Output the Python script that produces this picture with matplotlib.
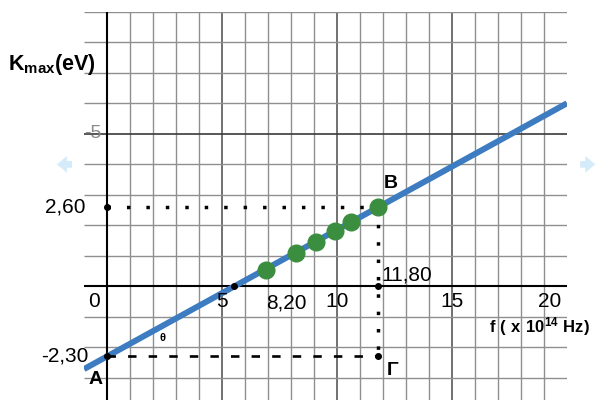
import matplotlib.pyplot as plt
import numpy as np

# measured points: frequency (x 10^14 Hz) and max kinetic energy (eV)
freq = [6.9, 8.2, 9.1, 9.9, 10.6, 11.8]
kmax = [0.55, 1.10, 1.45, 1.80, 2.10, 2.60]

# the two marked points on the fitted line
point_A = (0.0, -2.30)
point_B = (11.80, 2.60)
threshold_f = 5.54

x_tick_values = [5, 10, 15]
x_tick_labels = ["5", "10", "15"]

plt.rcParams['font.family'] = ['Liberation Sans', 'DejaVu Sans']
plt.rcParams['mathtext.fontset'] = 'custom'
plt.rcParams['mathtext.rm'] = 'Liberation Sans'
plt.rcParams['mathtext.bf'] = 'Liberation Sans:bold'

fig = plt.figure(figsize=(6, 4), dpi=100)
ax = fig.add_axes([84 / 600, 0.0, 483 / 600, 0.97])
ax.set_xlim(-1, 20)
ax.set_ylim(-3.73, 9)
ax.axis('off')

# grid paper
minor_x = [x for x in range(1, 20) if x % 5 != 0]
ax.vlines(minor_x, -3.73, 9, color='#8f8f8f', lw=1.0, zorder=1)
ax.vlines([5, 10, 15], -3.73, 9, color='#4a4a4a', lw=1.1, zorder=1)
minor_y = [y for y in range(-3, 10) if y not in (0, 5)]
ax.hlines(minor_y, -1, 20, color='#8f8f8f', lw=1.0, zorder=1)
ax.hlines([5], -1, 20, color='#3a3a3a', lw=1.2, zorder=1)

# main axes
ax.hlines([0], -1, 20, color='black', lw=1.5, zorder=2)
ax.vlines([0], -3.73, 9, color='black', lw=1.5, zorder=2)

# straight line through A and B, extended over the whole sheet
slope, intercept = np.polyfit([point_A[0], point_B[0]], [point_A[1], point_B[1]], 1)
xs = np.array([-1, 20])
ax.plot(xs, slope * xs + intercept, color='#3d7cc0', lw=4.3, zorder=3, solid_capstyle='butt')

# construction lines for the slope triangle
ax.plot([0, point_B[0]], [point_B[1], point_B[1]], color='black', lw=2.5,
        linestyle=(0, (1, 4.6)), dash_capstyle='butt', zorder=4)
ax.plot([point_B[0], point_B[0]], [point_B[1], point_A[1]], color='black', lw=2.5,
        linestyle=(0, (1, 4.0)), dash_capstyle='butt', zorder=4)
ax.plot([0, point_B[0]], [point_A[1], point_A[1]], color='black', lw=1.9,
        linestyle=(0, (3.2, 4.6)), dash_capstyle='butt', zorder=4)

ax.plot([0, 0, threshold_f, point_B[0], point_B[0]],
        [point_B[1], point_A[1], 0, 0, point_A[1]],
        'o', color='black', markersize=4, zorder=5)

ax.plot(freq, kmax, 'o', color='#3b8e3f', markersize=12, zorder=6)

# labels
ax.text(-4.3, 7.29, r'$\mathbf{K_{max}(eV)}$', fontsize=15.5, va='center', ha='left')
ax.text(16.6, -1.31, r'$\mathbf{f\ (\ x\ 10^{14}\ Hz)}$', fontsize=12, va='center', ha='left')
ax.text(-0.25, 5, '-5', fontsize=14, color='#8a8a8a', va='center', ha='right')
ax.text(-0.95, point_B[1], '2,60', fontsize=15, va='center', ha='right')
ax.text(-0.3, -0.5, '0', fontsize=15, va='center', ha='right')
ax.text(-0.8, point_A[1], '-2,30', fontsize=15, va='center', ha='right')
for xv, lab in zip(x_tick_values, x_tick_labels):
    ax.text(xv, -0.5, lab, fontsize=15, va='center', ha='center')
ax.text(19.25, -0.5, '20', fontsize=15, va='center', ha='center')
ax.text(7.8, -0.55, '8,20', fontsize=15, va='center', ha='center')
ax.text(11.95, 0.05, '11,80', fontsize=15, va='bottom', ha='left')

ax.text(-0.5, -3.07, 'A', fontsize=14, fontweight='bold', va='center', ha='center')
ax.text(12.35, 3.37, 'B', fontsize=14, fontweight='bold', va='center', ha='center')
ax.text(12.4, -2.75, 'Γ', fontsize=14, fontweight='bold', va='center', ha='center')
ax.text(2.43, -1.7, 'θ', fontsize=8, fontweight='bold', va='center', ha='center')

# pale pan arrows at the sides
arrow_style = 'simple,head_length=0.45,head_width=0.75,tail_width=0.3'
ax.annotate('', xy=(-2.3, 4), xytext=(-1.4, 4), annotation_clip=False,
            arrowprops=dict(arrowstyle=arrow_style, color='#d4ebfa', mutation_scale=16, lw=0))
ax.annotate('', xy=(21.35, 4), xytext=(20.45, 4), annotation_clip=False,
            arrowprops=dict(arrowstyle=arrow_style, color='#d4ebfa', mutation_scale=16, lw=0))

plt.savefig('out.png', dpi=100)
plt.close()
